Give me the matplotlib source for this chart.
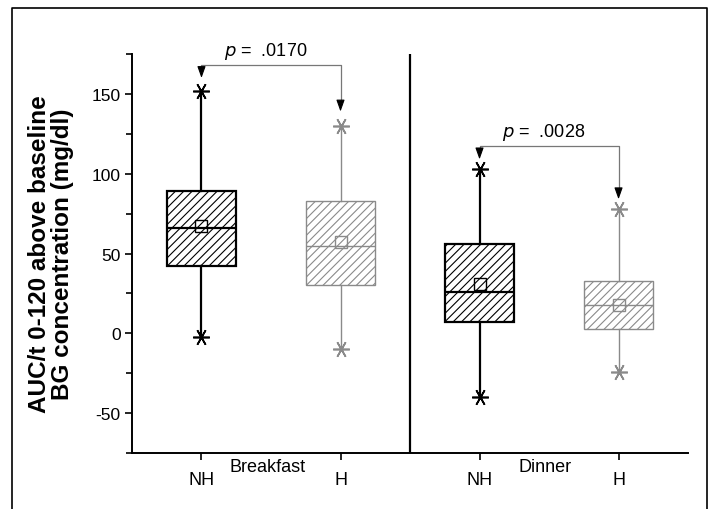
import matplotlib
matplotlib.use('Agg')

import matplotlib.pyplot as plt
from matplotlib.lines import Line2D
import matplotlib.transforms as mtransforms

plt.rcParams['font.family'] = ['Liberation Sans', 'DejaVu Sans']
plt.rcParams['hatch.linewidth'] = 0.8
plt.rcParams['axes.unicode_minus'] = False

# box statistics (mg/dl)
groups = ['NH', 'H', 'NH', 'H']
meals = ['Breakfast', 'Dinner']
whis_hi = [152, 130, 103, 78]
q3 = [89, 83, 56, 33]
med = [66, 55, 26, 18]
mean = [67, 57, 31, 18]
q1 = [42, 30, 7, 3]
whis_lo = [-2, -10, -40, -24]

# p-value brackets: (left box, right box, bracket level, left tip, right tip)
p_text = ['.0170', '.0028']
p_pairs = [(1, 2), (3, 4)]
p_level = [168, 117.5]
p_tip_left = [160, 109]
p_tip_right = [139, 84]

positions = [1, 2, 3, 4]
colors = ['black', '#8a8a8a', 'black', '#8a8a8a']
widths_lw = [1.6, 1.0, 1.6, 1.0]

fig = plt.figure(figsize=(7.13, 5.10), dpi=100)
ax = fig.add_axes([0.1851, 0.1098, 0.965 - 0.1851, 0.892 - 0.1098])

stats = []
for i in range(4):
    stats.append(dict(med=med[i], q1=q1[i], q3=q3[i], whislo=whis_lo[i],
                      whishi=whis_hi[i], mean=mean[i], fliers=[]))

for i in range(4):
    c = colors[i]
    lw = widths_lw[i]
    bp = ax.bxp([stats[i]], positions=[positions[i]], widths=0.5,
                showmeans=True, showcaps=False, patch_artist=True,
                boxprops=dict(facecolor='white', edgecolor=c, linewidth=lw, hatch='////'),
                medianprops=dict(color=c, linewidth=lw),
                whiskerprops=dict(color=c, linewidth=lw),
                meanprops=dict(marker='s', markerfacecolor='none', markeredgecolor=c,
                               markersize=8, markeredgewidth=1.0))
    ax.plot([positions[i], positions[i]], [whis_lo[i], whis_hi[i]], linestyle='none',
            marker=(6, 2, 90), markersize=12, color=c, markeredgewidth=1.2)

# divider between meals
ax.axvline(2.5, color='black', linewidth=1.6)

# p-value brackets
for k in range(2):
    xa, xb = p_pairs[k]
    y = p_level[k]
    ax.plot([xa, xa, xb, xb], [p_tip_left[k] + 4, y, y, p_tip_right[k] + 4],
            color='#777777', linewidth=0.9)
    for xx, tip in [(xa, p_tip_left[k]), (xb, p_tip_right[k])]:
        ax.annotate('', xy=(xx, tip), xytext=(xx, tip + 5),
                    arrowprops=dict(arrowstyle='-|>,head_length=0.7,head_width=0.25',
                                    color='black', linewidth=0.8, shrinkA=0, shrinkB=0))
    ax.text((xa + xb) / 2 - 0.04, y + 2.5, r'$p$ =  ' + p_text[k], ha='center', va='bottom',
            fontsize=13)

ax.set_xlim(0.5, 4.5)
ax.set_ylim(-75, 175)
ax.set_xticks(positions)
ax.set_xticklabels(groups)
ax.set_yticks([-50, 0, 50, 100, 150])
ax.set_yticks([-75, -25, 25, 75, 125, 175], minor=True)
ax.tick_params(axis='both', which='major', direction='out', length=5, width=1.2,
               labelsize=12.5, pad=3)
ax.tick_params(axis='x', pad=8, labelsize=13)
ax.tick_params(axis='y', which='minor', direction='out', length=4, width=1.2)
for s in ['top', 'right']:
    ax.spines[s].set_visible(False)
for s in ['left', 'bottom']:
    ax.spines[s].set_linewidth(1.4)

trans = mtransforms.blended_transform_factory(ax.transData, ax.transAxes)
for k, m in enumerate(meals):
    ax.text(1.475 + 2 * k, -0.035, m, transform=trans, ha='center', va='center',
            fontsize=13)

ax.set_ylabel('AUC/t 0-120 above baseline\nBG concentration (mg/dl)',
              fontsize=17.5, fontweight='bold', labelpad=13, linespacing=1.0)

# outer frame
fig.add_artist(Line2D([12 / 713, 12 / 713, 707 / 713, 707 / 713],
                      [0, 1 - 9 / 510, 1 - 9 / 510, 0],
                      transform=fig.transFigure, color='black', linewidth=1.2))

fig.savefig('out.png', dpi=100)
